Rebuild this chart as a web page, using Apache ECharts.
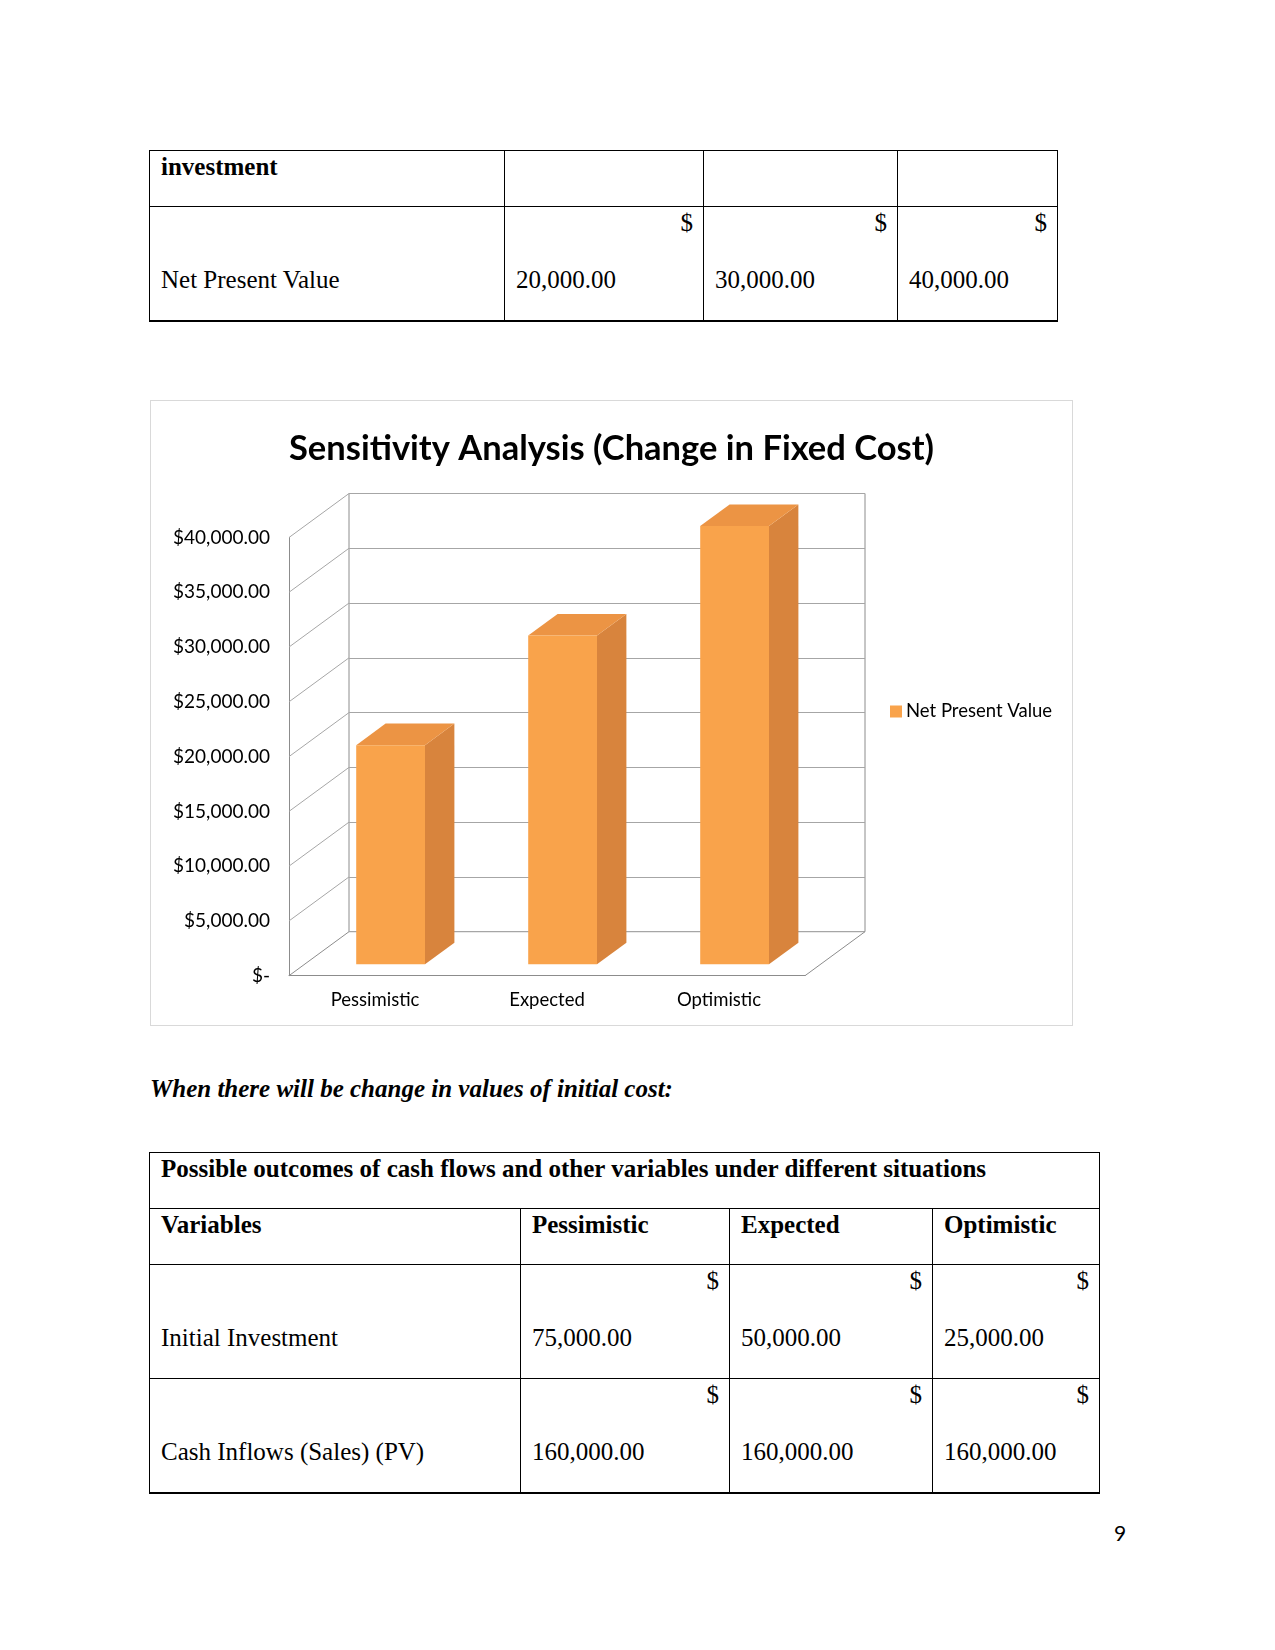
<!DOCTYPE html>
<html>
<head>
<meta charset="utf-8">
<script src="https://cdn.jsdelivr.net/npm/echarts@6/dist/echarts.min.js"></script>
<style>
  body {
    margin: 0;
    background: #fff;
    width: 1275px;
    height: 1650px;
    position: relative;
    font-family: "Liberation Serif", "Times New Roman", serif;
    color: #000;
  }
  table {
    position: absolute;
    border-collapse: collapse;
    table-layout: fixed;
    font-size: 25px;
  }
  td {
    border: 1px solid #000;
    vertical-align: top;
    padding: 3px 10px 0 11px;
    line-height: 26px;
    white-space: nowrap;
  }
  tr.last td { border-bottom: 2px solid #000; }
  .b { font-weight: bold; }
  .d { text-align: right; }
  .v { margin-top: 31px; }
  .note {
    position: absolute;
    left: 150px;
    top: 1075px;
    font-size: 25px;
    font-weight: bold;
    font-style: italic;
  }
  .pageNo {
    position: absolute;
    left: 1114px;
    top: 1520px;
    font-family: Lato, sans-serif;
    font-size: 21px;
  }
  .chartBox {
    position: absolute;
    left: 150px;
    top: 400px;
    width: 921px;
    height: 624px;
    border: 1px solid #d9d9d9;
  }
  #chart {
    position: absolute;
    left: 0;
    top: 0;
    width: 921px;
    height: 624px;
  }
</style>
</head>
<body>

<table style="left:149px; top:150px; width:908px;">
  <colgroup><col style="width:355px"><col style="width:199px"><col style="width:194px"><col style="width:160px"></colgroup>
  <tr style="height:56px">
    <td class="b">investment</td><td></td><td></td><td></td>
  </tr>
  <tr class="last" style="height:114px">
    <td><div>&nbsp;</div><div class="v">Net Present Value</div></td>
    <td><div class="d">$</div><div class="v">20,000.00</div></td>
    <td><div class="d">$</div><div class="v">30,000.00</div></td>
    <td><div class="d">$</div><div class="v">40,000.00</div></td>
  </tr>
</table>

<div class="chartBox"><div id="chart"></div></div>

<div class="note">When there will be change in values of initial cost:</div>

<table style="left:149px; top:1152px; width:950px;">
  <colgroup><col style="width:371px"><col style="width:209px"><col style="width:203px"><col style="width:167px"></colgroup>
  <tr style="height:56px">
    <td class="b" colspan="4">Possible outcomes of cash flows and other variables under different situations</td>
  </tr>
  <tr style="height:56px">
    <td class="b">Variables</td><td class="b">Pessimistic</td><td class="b">Expected</td><td class="b">Optimistic</td>
  </tr>
  <tr style="height:114px">
    <td><div>&nbsp;</div><div class="v">Initial Investment</div></td>
    <td><div class="d">$</div><div class="v">75,000.00</div></td>
    <td><div class="d">$</div><div class="v">50,000.00</div></td>
    <td><div class="d">$</div><div class="v">25,000.00</div></td>
  </tr>
  <tr class="last" style="height:114px">
    <td><div>&nbsp;</div><div class="v">Cash Inflows (Sales) (PV)</div></td>
    <td><div class="d">$</div><div class="v">160,000.00</div></td>
    <td><div class="d">$</div><div class="v">160,000.00</div></td>
    <td><div class="d">$</div><div class="v">160,000.00</div></td>
  </tr>
</table>

<div class="pageNo">9</div>

<script>
// chart data
var chartTitle = 'Sensitivity Analysis (Change in Fixed Cost)';
var seriesName = 'Net Present Value';
var categories = ['Pessimistic', 'Expected', 'Optimistic'];
var npvValues = [20000, 30000, 40000];
var yTicks = [0, 5000, 10000, 15000, 20000, 25000, 30000, 35000, 40000];

// 3d look: depth of the box in pixels, bar placement inside it
var DX = 60, DY = -44;
var BAR_FRONT = 0.26, BAR_DEPTH = 0.49, BAR_W = 0.4;
var frontColor = '#F9A34B', sideColor = '#D8843D', topColor = '#EC9444';
var lineColor = '#8c8c8c', gridColor = '#a6a6a6';

function fmtMoney(v) {
  if (v === 0) return '$-';
  return '$' + v.toLocaleString('en-US', {minimumFractionDigits: 2, maximumFractionDigits: 2});
}

function renderBar(params, api) {
  var i = api.value(0), v = api.value(1);
  var base = api.coord([i, 0]);
  var top = api.coord([i, v]);
  var w = api.size([1, 0])[0] * BAR_W;
  var ox = DX * BAR_FRONT, oy = DY * BAR_FRONT;
  var bx = DX * BAR_DEPTH, by = DY * BAR_DEPTH;
  var x0 = base[0] - w / 2 + ox, x1 = x0 + w;
  var y0 = top[1] + oy, y1 = base[1] + oy;
  return {
    type: 'group',
    children: [
      {type: 'polygon', shape: {points: [[x1, y0], [x1 + bx, y0 + by], [x1 + bx, y1 + by], [x1, y1]]}, style: {fill: sideColor}},
      {type: 'polygon', shape: {points: [[x0, y0], [x0 + bx, y0 + by], [x1 + bx, y0 + by], [x1, y0]]}, style: {fill: topColor}},
      {type: 'rect', shape: {x: x0, y: y0, width: w, height: y1 - y0}, style: {fill: frontColor}}
    ]
  };
}

// side wall + floor diagonals
function renderWall(params, api) {
  var v = api.value(1);
  var cs = params.coordSys;
  var y = api.coord([0, v])[1];
  var kids = [
    {type: 'line', shape: {x1: cs.x, y1: y, x2: cs.x + DX, y2: y + DY}, style: {stroke: v === 0 ? lineColor : gridColor, lineWidth: 1}}
  ];
  if (v === 0) {
    kids.push({type: 'line', shape: {x1: cs.x + cs.width, y1: y, x2: cs.x + cs.width + DX, y2: y + DY}, style: {stroke: lineColor, lineWidth: 1}});
  }
  return {type: 'group', children: kids};
}

var myChart = echarts.init(document.getElementById('chart'));
var option = {
  animation: false,
  title: {
    text: chartTitle,
    left: 'center',
    top: 25,
    textStyle: {fontFamily: 'Lato', fontWeight: 'bold', fontSize: 34.5, color: '#000'}
  },
  legend: {
    data: [{name: seriesName, icon: 'rect'}],
    left: 734,
    top: 296,
    itemWidth: 12,
    itemHeight: 12,
    itemGap: 6,
    textStyle: {fontFamily: 'Lato', fontSize: 18.5, color: '#000', padding: [0, 0, 0, -1]}
  },
  grid: [
    {left: 138, top: 136.5, width: 516, height: 438.2},
    {left: 198, top: 92.5, width: 516, height: 438.2, show: true, borderColor: lineColor, borderWidth: 1, backgroundColor: 'transparent'}
  ],
  xAxis: [
    {
      type: 'category', gridIndex: 0, data: categories,
      axisLine: {show: true, lineStyle: {color: lineColor}},
      axisTick: {show: false},
      axisLabel: {margin: 15, fontFamily: 'Lato', fontSize: 18.5, color: '#000'}
    },
    {type: 'category', gridIndex: 1, data: categories, show: false}
  ],
  yAxis: [
    {
      type: 'value', gridIndex: 0, min: 0, max: 40000, interval: 5000,
      axisLine: {show: true, lineStyle: {color: lineColor}},
      axisTick: {show: false},
      splitLine: {show: false},
      axisLabel: {margin: 19, fontFamily: 'Lato', fontSize: 19, color: '#000', formatter: fmtMoney}
    },
    {
      type: 'value', gridIndex: 1, min: 0, max: 40000, interval: 5000,
      axisLine: {show: false}, axisTick: {show: false}, axisLabel: {show: false},
      splitLine: {show: true, lineStyle: {color: gridColor, width: 1}}
    }
  ],
  series: [
    {
      name: 'wall', type: 'custom', xAxisIndex: 0, yAxisIndex: 0, silent: true, z: 1,
      renderItem: renderWall,
      data: yTicks.map(function (v) { return [0, v]; })
    },
    {
      name: seriesName, type: 'custom', xAxisIndex: 0, yAxisIndex: 0, z: 2,
      itemStyle: {color: frontColor},
      renderItem: renderBar,
      data: npvValues.map(function (v, i) { return [i, v]; })
    }
  ]
};
myChart.setOption(option);
</script>
</body>
</html>
